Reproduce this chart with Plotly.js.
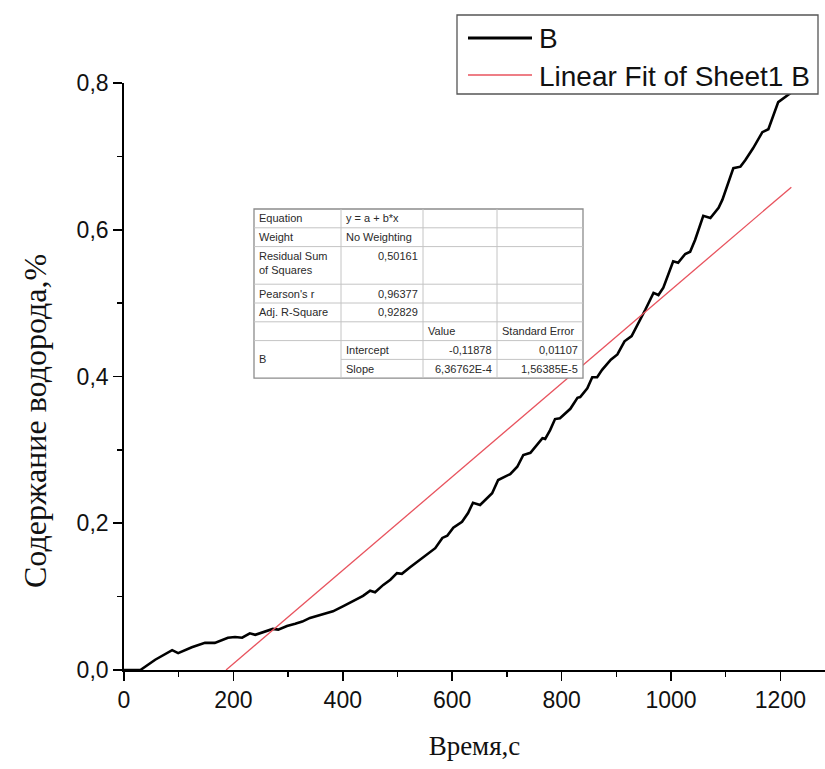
<!DOCTYPE html>
<html>
<head>
<meta charset="utf-8">
<script src="https://cdn.plot.ly/plotly-3.0.1.min.js"></script>
<style>html,body{margin:0;padding:0;background:#fff;}#chart{width:825px;height:769px;}</style>
</head>
<body>
<div id="chart"></div>
<script>
// ---- data ----
const timeSec = [0, 30, 57, 88, 99, 124, 148, 166, 190, 203, 216, 230, 240, 258, 272, 282, 298, 313, 326, 340,
  358, 382, 401, 426, 437, 450, 459, 474, 487, 499, 508, 523, 536, 554, 569, 582, 591, 602, 618, 629,
  638, 651, 664, 673, 684, 697, 706, 719, 730, 743, 755, 765, 770, 779, 788, 797, 816, 829, 834, 847,
  856, 865, 874, 890, 902, 915, 928, 944, 953, 968, 977, 986, 1004, 1013, 1026, 1035, 1044, 1059, 1072, 1087,
  1094, 1114, 1127, 1136, 1150, 1167, 1178, 1196, 1213, 1220];
const hydrogenB = [0, 0, 0.014, 0.027, 0.023, 0.031, 0.037, 0.037, 0.044, 0.045, 0.044, 0.050, 0.048, 0.053, 0.056, 0.055, 0.060, 0.063, 0.066, 0.071,
  0.075, 0.080, 0.087, 0.097, 0.101, 0.108, 0.106, 0.116, 0.123, 0.132, 0.131, 0.140, 0.147, 0.157, 0.166, 0.180, 0.183, 0.194, 0.202, 0.214,
  0.228, 0.225, 0.234, 0.241, 0.259, 0.264, 0.267, 0.277, 0.293, 0.296, 0.307, 0.316, 0.315, 0.327, 0.342, 0.343, 0.356, 0.371, 0.372, 0.384,
  0.399, 0.399, 0.409, 0.423, 0.430, 0.448, 0.455, 0.477, 0.491, 0.514, 0.511, 0.521, 0.557, 0.555, 0.567, 0.570, 0.586, 0.619, 0.616, 0.630,
  0.641, 0.684, 0.686, 0.695, 0.711, 0.733, 0.737, 0.774, 0.784, 0.787];

const fitIntercept = -0.11878;
const fitSlope = 6.36762e-4;
const fitInterceptSE = 0.01107;
const fitSlopeSE = 1.56385e-5;
const residualSS = 0.50161;
const pearsonR = 0.96377;
const adjRSquare = 0.92829;

const seriesNames = ["B", "Linear Fit of Sheet1 B"];
const xTitle = "Время,с";
const yTitle = "Содержание водорода,%";
const xTickVals = [0, 200, 400, 600, 800, 1000, 1200];
const yTickVals = [0, 0.2, 0.4, 0.6, 0.8];

// ---- derived ----
const fitX = [-fitIntercept / fitSlope, Math.max.apply(null, timeSec)];
const fitY = fitX.map(x => fitIntercept + fitSlope * x);

const dec = v => String(v).replace('.', ',');
const sci = v => v.toExponential(5).replace('.', ',').replace('e', 'E');

const tableRows = [
  ["Equation", "y = a + b*x", "", ""],
  ["Weight", "No Weighting", "", ""],
  ["Residual Sum<br>of Squares", dec(residualSS), "", ""],
  ["Pearson's r", dec(pearsonR), "", ""],
  ["Adj. R-Square", dec(adjRSquare), "", ""],
  ["", "", "Value", "Standard Error"],
  ["", "Intercept", dec(fitIntercept), dec(fitInterceptSE)],
  ["", "Slope", sci(fitSlope), sci(fitSlopeSE)]
];

// ---- page geometry helpers (pixels -> paper) ----
const ML = 124, MT = 83, MB = 99, FW = 825, FH = 769;
const PW = FW - ML, PH = FH - MT - MB;
const px = x => (x - ML) / PW;
const py = y => (MT + PH - y) / PH;

const SANS = "'Liberation Sans', Arial, sans-serif";
const SERIF = "'Liberation Serif', 'Times New Roman', serif";

const shapes = [];
const annotations = [];

// table
const colX = [254, 341, 423, 497, 583];
const rowH = 18.8;
const tTop = 209;
const rowSpan = [1, 1, 2, 1, 1, 1, 1, 1];
const rowTop = [];
let acc = tTop;
rowSpan.forEach(s => { rowTop.push(acc); acc += s * rowH; });
const tBottom = acc;

shapes.push({type: 'rect', xref: 'paper', yref: 'paper', x0: px(colX[0]), x1: px(colX[4]), y0: py(tBottom), y1: py(tTop),
  fillcolor: '#ffffff', line: {color: '#8c8c8c', width: 1.3}, layer: 'above'});
for (let i = 1; i < rowTop.length; i++) {
  const startX = (i === 7) ? colX[1] : colX[0];
  shapes.push({type: 'line', xref: 'paper', yref: 'paper', x0: px(startX), x1: px(colX[4]), y0: py(rowTop[i]), y1: py(rowTop[i]),
    line: {color: '#c4c4c4', width: 1}, layer: 'above'});
}
for (let j = 1; j < 4; j++) {
  shapes.push({type: 'line', xref: 'paper', yref: 'paper', x0: px(colX[j]), x1: px(colX[j]), y0: py(tTop), y1: py(tBottom),
    line: {color: '#c4c4c4', width: 1}, layer: 'above'});
}
const isNum = s => /^-?[0-9]/.test(s);
const tableFont = {family: SANS, size: 11, color: '#2a2a2a'};
tableRows.forEach((row, i) => {
  row.forEach((txt, j) => {
    if (!txt) return;
    const right = isNum(txt);
    const multi = txt.indexOf('<br>') >= 0;
    annotations.push({
      xref: 'paper', yref: 'paper',
      x: px(right ? colX[j + 1] - 3 : colX[j] + 3),
      y: py(multi ? rowTop[i] + 1 : rowTop[i] + rowH / 2),
      xanchor: right ? 'right' : 'left', yanchor: multi ? 'top' : 'middle',
      text: txt, showarrow: false, align: 'left',
      font: tableFont
    });
  });
});
annotations.push({xref: 'paper', yref: 'paper', x: px(colX[0] + 3), y: py(rowTop[6] + rowH), xanchor: 'left', yanchor: 'middle',
  text: seriesNames[0], showarrow: false, font: tableFont});

// legend (drawn)
shapes.push({type: 'rect', xref: 'paper', yref: 'paper', x0: px(457), x1: px(818), y0: py(94), y1: py(15),
  fillcolor: '#ffffff', line: {color: '#555555', width: 1.3}, layer: 'above'});
const legColors = ['#000000', '#e8535e'];
const legWidths = [3, 1.3];
const legY = [38, 75];
seriesNames.forEach((name, k) => {
  shapes.push({type: 'line', xref: 'paper', yref: 'paper', x0: px(468), x1: px(532), y0: py(legY[k]), y1: py(legY[k]),
    line: {color: legColors[k], width: legWidths[k]}, layer: 'above'});
  annotations.push({xref: 'paper', yref: 'paper', x: px(537), y: py(legY[k] + 1), xanchor: 'left', yanchor: 'middle',
    text: name, showarrow: false, font: {family: SANS, size: 28, color: '#111111'}});
});

// y-axis title (placed as in the reference, below the plot centre)
annotations.push({xref: 'paper', yref: 'paper', x: px(35), y: py(421), xanchor: 'center', yanchor: 'middle',
  text: yTitle, textangle: -90, showarrow: false, font: {family: SERIF, size: 32, color: '#111111'}});

const traces = [
  {x: timeSec, y: hydrogenB, type: 'scatter', mode: 'lines', name: seriesNames[0],
    line: {color: '#000000', width: 2.6}, cliponaxis: false},
  {x: fitX, y: fitY, type: 'scatter', mode: 'lines', name: seriesNames[1],
    line: {color: legColors[1], width: 1.3}}
];

const axisFont = {family: SANS, size: 23, color: '#111111'};
const layout = {
  width: FW, height: FH,
  margin: {l: ML, r: 0, t: MT, b: MB, pad: 0},
  paper_bgcolor: '#ffffff', plot_bgcolor: '#ffffff',
  separators: ',.',
  showlegend: false,
  xaxis: {
    range: [0, PW / 0.547], tickvals: xTickVals, ticks: 'outside', ticklen: 9, tickwidth: 1.6, tickcolor: '#000',
    showline: true, linecolor: '#000', linewidth: 1.8, showgrid: false, zeroline: false,
    tickfont: axisFont,
    minor: {dtick: 100, tick0: 0, ticks: 'outside', ticklen: 5, tickwidth: 1.4, tickcolor: '#000', showgrid: false},
    title: {text: xTitle, font: {family: SERIF, size: 27, color: '#111'}, standoff: 24}
  },
  yaxis: {
    range: [0, 0.8], tickvals: yTickVals, tickformat: '.1f', ticks: 'outside', ticklen: 9, tickwidth: 1.6, tickcolor: '#000',
    showline: true, linecolor: '#000', linewidth: 1.8, showgrid: false, zeroline: false,
    tickfont: axisFont,
    minor: {dtick: 0.1, tick0: 0, ticks: 'outside', ticklen: 5, tickwidth: 1.4, tickcolor: '#000', showgrid: false}
  },
  shapes: shapes,
  annotations: annotations
};

Plotly.newPlot('chart', traces, layout, {displayModeBar: false, staticPlot: true});
</script>
</body>
</html>
